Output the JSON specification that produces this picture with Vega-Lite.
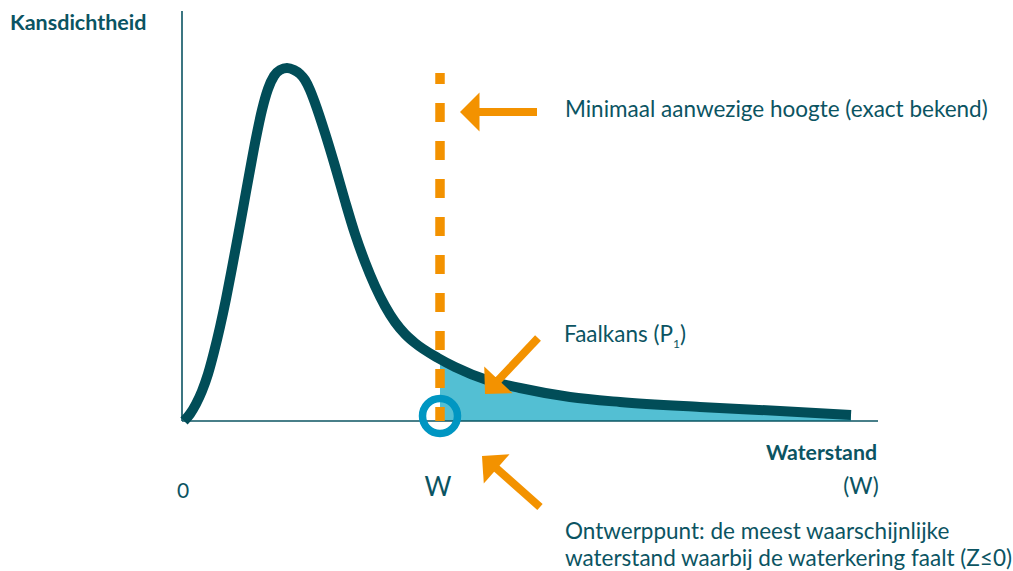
{
  "$schema": "https://vega.github.io/schema/vega-lite/v6.json",
  "width": 1013,
  "height": 571,
  "padding": 0,
  "autosize": {"type": "none"},
  "background": "white",
  "config": {"view": {"stroke": null}},
  "datasets": {
    "curve": [
      {"x": 0.02, "y": 0.0}, {"x": 0.08, "y": 0.07}, {"x": 0.14, "y": 0.17}, {"x": 0.2, "y": 0.3},
      {"x": 0.26, "y": 0.47}, {"x": 0.32, "y": 0.69}, {"x": 0.38, "y": 0.94}, {"x": 0.44, "y": 1.22},
      {"x": 0.5, "y": 1.53}, {"x": 0.56, "y": 1.85}, {"x": 0.62, "y": 2.18}, {"x": 0.68, "y": 2.51},
      {"x": 0.74, "y": 2.83}, {"x": 0.8, "y": 3.11}, {"x": 0.86, "y": 3.32}, {"x": 0.92, "y": 3.45},
      {"x": 0.98, "y": 3.51}, {"x": 1.05, "y": 3.53}, {"x": 1.12, "y": 3.51}, {"x": 1.18, "y": 3.47},
      {"x": 1.23, "y": 3.41}, {"x": 1.28, "y": 3.31}, {"x": 1.33, "y": 3.18}, {"x": 1.43, "y": 2.88},
      {"x": 1.53, "y": 2.55}, {"x": 1.63, "y": 2.2}, {"x": 1.73, "y": 1.87}, {"x": 1.83, "y": 1.59},
      {"x": 1.93, "y": 1.35}, {"x": 2.03, "y": 1.15}, {"x": 2.13, "y": 0.99}, {"x": 2.23, "y": 0.87},
      {"x": 2.33, "y": 0.78}, {"x": 2.56, "y": 0.63}, {"x": 2.73, "y": 0.54}, {"x": 3.05, "y": 0.41},
      {"x": 3.38, "y": 0.33}, {"x": 3.88, "y": 0.24}, {"x": 4.38, "y": 0.19}, {"x": 5.18, "y": 0.14},
      {"x": 5.98, "y": 0.1}, {"x": 6.69, "y": 0.06}
    ],
    "tail": [
      {"x": 2.58, "y": 0.62}, {"x": 2.73, "y": 0.54}, {"x": 3.05, "y": 0.41}, {"x": 3.38, "y": 0.33},
      {"x": 3.88, "y": 0.24}, {"x": 4.38, "y": 0.19}, {"x": 5.18, "y": 0.14}, {"x": 5.98, "y": 0.1},
      {"x": 6.69, "y": 0.06}
    ],
    "axes": [
      {"x": 0.0, "y": 4.1, "x2": 0.0, "y2": 0.0},
      {"x": 0.0, "y": 0.0, "x2": 6.96, "y2": 0.0}
    ],
    "threshold": [{"x": 2.58, "y": 3.48, "x2": 2.58, "y2": 0.0}],
    "point": [{"x": 2.58, "y": 0.05}],
    "shafts": [
      {"x": 3.55, "y": 3.09, "x2": 2.96, "y2": 3.09},
      {"x": 3.56, "y": 0.83, "x2": 3.155, "y2": 0.4},
      {"x": 3.58, "y": -0.86, "x2": 3.14, "y2": -0.47}
    ],
    "heads": [
      {"x": 2.78, "y": 3.09, "dir": 0},
      {"x": 3.03, "y": 0.27, "dir": -46.6},
      {"x": 3.0, "y": -0.35, "dir": 41.3}
    ],
    "labels": [
      {"x": -1.72, "y": 3.91, "text": "Kansdichtheid", "kind": "bold", "align": "left"},
      {"x": 6.95, "y": -0.39, "text": "Waterstand", "kind": "bold", "align": "right"},
      {"x": 3.83, "y": 3.04, "text": "Minimaal aanwezige hoogte (exact bekend)", "kind": "body", "align": "left"},
      {"x": 3.82, "y": 0.79, "text": "Faalkans (P", "kind": "body", "align": "left"},
      {"x": 4.98, "y": 0.79, "text": ")", "kind": "body", "align": "left"},
      {"x": 3.83, "y": -1.18, "text": "Ontwerppunt: de meest waarschijnlijke", "kind": "body", "align": "left"},
      {"x": 3.83, "y": -1.45, "text": "waterstand waarbij de waterkering faalt (Z≤0)", "kind": "body", "align": "left"},
      {"x": 6.79, "y": -0.73, "text": "(W)", "kind": "body", "align": "center"},
      {"x": 0.01, "y": -0.77, "text": "0", "kind": "small", "align": "center"},
      {"x": 2.56, "y": -0.75, "text": "W", "kind": "big", "align": "center"},
      {"x": 4.91, "y": 0.73, "text": "1", "kind": "sub", "align": "left"}
    ]
  },
  "encoding": {
    "x": {"field": "x", "type": "quantitative", "scale": {"domain": [-1.82, 8.31], "nice": false, "zero": false}, "axis": null},
    "y": {"field": "y", "type": "quantitative", "scale": {"domain": [-1.5, 4.21], "nice": false, "zero": false}, "axis": null}
  },
  "layer": [
    {
      "data": {"name": "tail"},
      "mark": {"type": "area", "interpolate": "monotone", "color": "#53BFD3"},
      "encoding": {"y2": {"datum": 0}}
    },
    {
      "data": {"name": "axes"},
      "mark": {"type": "rule", "color": "#0b5462", "strokeWidth": 1.6},
      "encoding": {"x2": {"field": "x2"}, "y2": {"field": "y2"}}
    },
    {
      "data": {"name": "curve"},
      "mark": {"type": "line", "interpolate": "monotone", "color": "#014d58", "strokeWidth": 10, "strokeCap": "butt", "strokeJoin": "round"},
      "encoding": {}
    },
    {
      "data": {"name": "threshold"},
      "mark": {"type": "rule", "color": "#F39200", "strokeWidth": 9.5, "strokeDash": [19, 19], "strokeDashOffset": 8, "strokeCap": "butt"},
      "encoding": {"x2": {"field": "x2"}, "y2": {"field": "y2"}}
    },
    {
      "data": {"name": "point"},
      "mark": {"type": "point", "shape": "circle", "filled": false, "size": 1225, "strokeWidth": 7.5, "color": "#0096C2", "opacity": 1}
    },
    {
      "data": {"name": "shafts"},
      "mark": {"type": "rule", "color": "#F39200", "strokeWidth": 8, "strokeCap": "butt"},
      "encoding": {"x2": {"field": "x2"}, "y2": {"field": "y2"}}
    },
    {
      "data": {"name": "heads"},
      "mark": {"type": "point", "shape": "M0,0L1,-1L1,1Z", "filled": true, "size": 1521, "color": "#F39200", "opacity": 1, "strokeWidth": 0},
      "encoding": {"angle": {"field": "dir", "type": "quantitative", "scale": null}}
    },
    {
      "data": {"name": "labels"},
      "transform": [{"filter": "datum.kind === 'bold' && datum.align === 'left'"}],
      "mark": {"type": "text", "font": "Lato", "fontSize": 21.5, "fontWeight": "bold", "align": "left", "baseline": "alphabetic", "color": "#0b5462"},
      "encoding": {"text": {"field": "text"}}
    },
    {
      "data": {"name": "labels"},
      "transform": [{"filter": "datum.kind === 'bold' && datum.align === 'right'"}],
      "mark": {"type": "text", "font": "Lato", "fontSize": 21.3, "fontWeight": "bold", "align": "right", "baseline": "alphabetic", "color": "#0b5462"},
      "encoding": {"text": {"field": "text"}}
    },
    {
      "data": {"name": "labels"},
      "transform": [{"filter": "datum.kind === 'body' && datum.align === 'left'"}],
      "mark": {"type": "text", "font": "Lato", "fontSize": 22.5, "align": "left", "baseline": "alphabetic", "color": "#0b5462"},
      "encoding": {"text": {"field": "text"}}
    },
    {
      "data": {"name": "labels"},
      "transform": [{"filter": "datum.kind === 'body' && datum.align === 'center'"}],
      "mark": {"type": "text", "font": "Lato", "fontSize": 22.5, "align": "center", "baseline": "alphabetic", "color": "#0b5462"},
      "encoding": {"text": {"field": "text"}}
    },
    {
      "data": {"name": "labels"},
      "transform": [{"filter": "datum.kind === 'small'"}],
      "mark": {"type": "text", "font": "Lato", "fontSize": 21, "align": "center", "baseline": "alphabetic", "color": "#0b5462"},
      "encoding": {"text": {"field": "text"}}
    },
    {
      "data": {"name": "labels"},
      "transform": [{"filter": "datum.kind === 'big'"}],
      "mark": {"type": "text", "font": "Lato", "fontSize": 26, "align": "center", "baseline": "alphabetic", "color": "#0b5462"},
      "encoding": {"text": {"field": "text"}}
    },
    {
      "data": {"name": "labels"},
      "transform": [{"filter": "datum.kind === 'sub'"}],
      "mark": {"type": "text", "font": "Lato", "fontSize": 12, "align": "left", "baseline": "alphabetic", "color": "#0b5462"},
      "encoding": {"text": {"field": "text"}}
    }
  ]
}
